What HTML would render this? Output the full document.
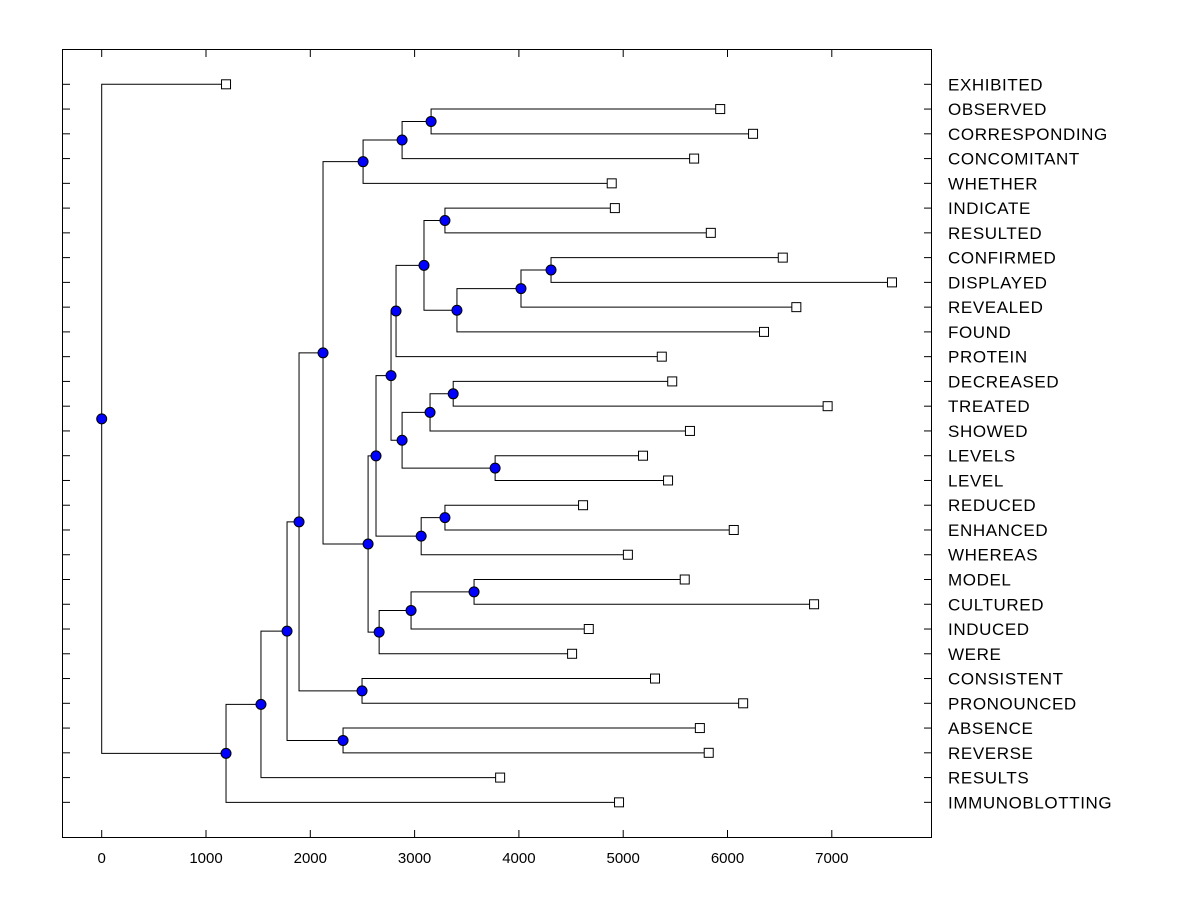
<!DOCTYPE html>
<html><head><meta charset="utf-8"><style>
body{margin:0;background:#fff;}
svg{display:block;font-family:"Liberation Sans",Arial,sans-serif;}
</style></head><body>
<svg id="chart" width="1200" height="900"></svg>
<script>
const leafNames=["EXHIBITED","OBSERVED","CORRESPONDING","CONCOMITANT","WHETHER","INDICATE","RESULTED","CONFIRMED","DISPLAYED","REVEALED","FOUND","PROTEIN","DECREASED","TREATED","SHOWED","LEVELS","LEVEL","REDUCED","ENHANCED","WHEREAS","MODEL","CULTURED","INDUCED","WERE","CONSISTENT","PRONOUNCED","ABSENCE","REVERSE","RESULTS","IMMUNOBLOTTING"];
const leafValues=[1192,5930,6245,5680,4890,4920,5840,6530,7577,6660,6350,5370,5470,6960,5640,5190,5430,4615,6060,5045,5590,6830,4670,4510,5305,6150,5735,5820,3820,4960];
// merges (bottom-up); child index <30 = leaf, >=30 = merge number (index-30)
const mergeA=[1,30,31,7,33,34,5,36,37,12,39,15,40,38,17,44,43,20,47,48,46,32,24,51,26,53,55,56,0];
const mergeB=[2,3,4,8,9,10,6,35,11,13,14,16,41,42,18,19,45,21,22,23,49,50,25,52,27,54,28,29,57];
const mergeHeights=[3158,2880,2506,4308,4020,3406,3291,3090,2822,3370,3148,3772,2880,2774,3291,3063,2630,3570,2966,2660,2554,2122,2496,1892,2314,1777,1527,1192,0];
const xTicks=[0,1000,2000,3000,4000,5000,6000,7000];
</script>
<script>
const svg=document.getElementById('chart');const NS="http://www.w3.org/2000/svg";
function el(t,a,p){const e=document.createElementNS(NS,t);for(const k in a)e.setAttribute(k,a[k]);(p||svg).appendChild(e);return e;}
const L0=62,R0=932,T0=49,B0=838;
const x=v=>101.7+v*0.1043;
const y=i=>84.3+i*24.76;
el('rect',{x:L0+0.5,y:T0+0.5,width:R0-L0-1,height:B0-T0-1,fill:'none',stroke:'#000','stroke-width':1});
xTicks.forEach(t=>{
 const l1=el('line',{x1:x(t),x2:x(t),y1:T0,y2:T0+8,stroke:'#000'});
 
 
 const l2=el('line',{x1:x(t),x2:x(t),y1:B0-8,y2:B0,stroke:'#000'});
 
 
 const tx=el('text',{x:x(t),y:863,'text-anchor':'middle','font-size':15});tx.textContent=t;
 
 
});
const pos={},ht={};
leafNames.forEach((n,i)=>{pos[i]=y(i);ht[i]=leafValues[i];
 el('line',{x1:L0,x2:L0+8,y1:y(i),y2:y(i),stroke:'#000'});
 el('line',{x1:R0-8,x2:R0,y1:y(i),y2:y(i),stroke:'#000'});
 const tx=el('text',{x:948,y:y(i)+6,'font-size':17,'letter-spacing':'0.6'});tx.textContent=n;
 
 
});
mergeA.forEach((a,k)=>{const id=30+k;pos[id]=(pos[a]+pos[mergeB[k]])/2;ht[id]=mergeHeights[k];});
const g=el('g',{});
mergeA.forEach((a,k)=>{const b=mergeB[k],nx=x(mergeHeights[k]);
 const p=el('path',{d:`M${x(ht[a])},${pos[a]}H${nx}V${pos[b]}H${x(ht[b])}`,fill:'none',stroke:'#000','stroke-width':1},g);
 
 
});
leafNames.forEach((n,i)=>{const r=el('rect',{x:x(leafValues[i])-4.5,y:y(i)-4.5,width:9,height:9,fill:'#fff',stroke:'#000'});
 
 });
mergeA.forEach((a,k)=>{const c=el('circle',{cx:x(mergeHeights[k]),cy:pos[30+k],r:5,fill:'#0000ff',stroke:'#000'});
 
 });
</script>
</body></html>
